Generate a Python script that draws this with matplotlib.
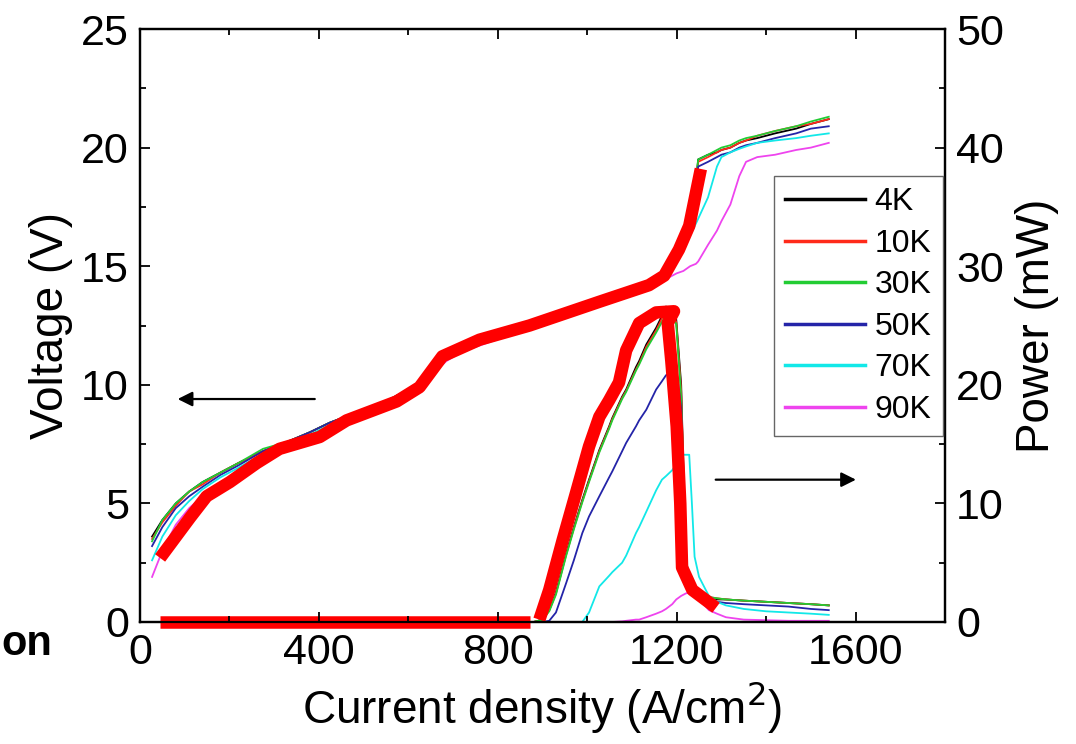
import numpy as np
import matplotlib
matplotlib.use('Agg')
import matplotlib.pyplot as plt
from matplotlib.ticker import MultipleLocator

plt.rcParams['font.family'] = ['Liberation Sans', 'DejaVu Sans']

temps = ['4K', '10K', '30K', '50K', '70K', '90K']
colors = ['#000000', '#ff2a1a', '#22cc33', '#2424a8', '#12e8e8', '#ee44ee']

# voltage vs current density, one list per temperature on a shared J grid
j_v = [27, 50, 80, 110, 140, 180, 220, 275, 330, 380, 424, 480, 540, 610, 650, 685, 720, 797, 871, 950,
       1027, 1100, 1150, 1180, 1200, 1215, 1230, 1243, 1248, 1270, 1290, 1300, 1320, 1340, 1355, 1380, 1420, 1467, 1500, 1540]
v_4k = [3.6, 4.3, 5.0, 5.5, 5.9, 6.3, 6.7, 7.2, 7.6, 8.0, 8.4, 8.8, 9.2, 9.9, 10.6, 11.3, 11.6, 12.0, 12.6, 13.0,
        13.5, 14.0, 14.3, 14.7, 15.3, 16.1, 17.1, 18.5, 19.5, 19.7, 19.8, 19.9, 20.0, 20.2, 20.3, 20.4, 20.6, 20.8, 21.0, 21.2]
v_10k = [3.5, 4.2, 4.9, 5.5, 5.8, 6.3, 6.7, 7.2, 7.6, 8.0, 8.4, 8.8, 9.2, 9.9, 10.6, 11.2, 11.6, 12.0, 12.6, 13.0,
         13.5, 14.0, 14.3, 14.7, 15.3, 16.1, 17.1, 18.5, 19.4, 19.6, 19.8, 19.9, 20.0, 20.2, 20.3, 20.5, 20.7, 20.9, 21.0, 21.2]
v_30k = [3.4, 4.3, 5.0, 5.5, 5.9, 6.3, 6.7, 7.3, 7.6, 8.0, 8.4, 8.8, 9.2, 9.9, 10.6, 11.3, 11.6, 12.0, 12.6, 13.0,
         13.5, 14.0, 14.3, 14.7, 15.3, 16.1, 17.1, 18.6, 19.5, 19.7, 19.9, 20.0, 20.1, 20.3, 20.4, 20.5, 20.7, 20.9, 21.1, 21.3]
v_50k = [3.2, 4.0, 4.8, 5.3, 5.7, 6.2, 6.6, 7.2, 7.6, 8.0, 8.4, 8.8, 9.2, 9.9, 10.6, 11.2, 11.6, 12.0, 12.6, 13.0,
         13.5, 14.0, 14.3, 14.7, 15.3, 16.0, 17.0, 18.4, 19.2, 19.4, 19.6, 19.7, 19.8, 20.0, 20.1, 20.2, 20.4, 20.6, 20.8, 20.9]
v_70k = [2.6, 3.6, 4.5, 5.1, 5.6, 6.1, 6.5, 7.1, 7.5, 7.9, 8.3, 8.7, 9.1, 9.8, 10.5, 11.1, 11.5, 11.9, 12.5, 12.9,
         13.4, 13.9, 14.2, 14.8, 15.3, 15.8, 16.3, 16.8, 17.0, 17.9, 19.2, 19.6, 19.8, 19.95, 20.05, 20.2, 20.3, 20.4, 20.5, 20.6]
v_90k = [1.9, 3.0, 4.1, 4.8, 5.3, 5.9, 6.3, 7.0, 7.4, 7.8, 8.2, 8.6, 9.0, 9.7, 10.4, 11.0, 11.4, 11.9, 12.5, 12.9,
         13.4, 13.9, 14.2, 14.5, 14.7, 14.8, 15.0, 15.1, 15.2, 15.9, 16.5, 16.9, 17.6, 18.8, 19.4, 19.6, 19.7, 19.9, 20.0, 20.2]

# optical power vs current density
j_p = [27, 880, 900, 915, 930, 953, 970, 989, 1004, 1027, 1049, 1056, 1078, 1087, 1109, 1116, 1132, 1154, 1167,
       1176, 1190, 1199, 1210, 1220, 1228, 1234, 1240, 1250, 1265, 1272, 1290, 1310, 1350, 1400, 1450, 1500, 1540]
p_4k = [0, 0, 0.2, 1.0, 2.5, 5.8, 8.0, 10.3, 12.0, 14.5, 16.5, 17.2, 19.0, 19.6, 21.5, 22.0, 23.4, 24.8, 25.8,
        26.6, 26.2, 25.5, 20.0, 6.0, 3.0, 2.6, 2.5, 2.3, 2.1, 2.0, 1.9, 1.9, 1.8, 1.7, 1.6, 1.5, 1.4]
p_10k = [0, 0, 0.2, 1.0, 2.4, 5.7, 7.9, 10.2, 11.9, 14.4, 16.4, 17.1, 18.9, 19.5, 21.3, 21.8, 23.2, 24.6, 25.6,
         26.3, 26.0, 25.3, 19.5, 5.8, 3.0, 2.6, 2.5, 2.4, 2.2, 2.1, 2.0, 1.9, 1.8, 1.7, 1.6, 1.5, 1.4]
p_30k = [0, 0, 0.2, 0.9, 2.3, 5.6, 7.8, 10.1, 11.8, 14.3, 16.3, 17.0, 18.8, 19.4, 21.2, 21.7, 23.0, 24.4, 25.3,
         25.9, 25.8, 25.1, 19.0, 5.6, 3.0, 2.6, 2.5, 2.4, 2.2, 2.1, 2.0, 1.9, 1.8, 1.7, 1.6, 1.5, 1.4]
p_50k = [0, 0, 0, 0.1, 0.8, 3.3, 5.2, 7.5, 8.9, 10.6, 12.2, 12.7, 14.4, 15.1, 16.5, 17.0, 17.9, 19.6, 20.3,
         20.8, 21.2, 21.4, 18.0, 5.0, 2.8, 2.4, 2.2, 2.1, 1.9, 1.8, 1.7, 1.6, 1.5, 1.4, 1.3, 1.1, 1.0]
p_70k = [0, 0, 0, 0, 0, 0, 0, 0, 0.8, 3.0, 3.9, 4.2, 5.0, 5.6, 7.5, 8.0, 9.3, 11.1, 12.0,
         12.3, 12.8, 13.3, 14.1, 14.1, 14.1, 10.0, 5.5, 3.8, 2.7, 2.2, 1.7, 1.4, 1.1, 0.9, 0.8, 0.7, 0.6]
p_90k = [0, 0, 0, 0, 0, 0, 0, 0, 0, 0, 0, 0, 0.05, 0.1, 0.2, 0.2, 0.4, 0.7, 0.9,
         1.1, 1.5, 1.9, 2.2, 2.4, 2.5, 2.4, 2.2, 1.9, 1.3, 1.0, 0.7, 0.4, 0.2, 0.15, 0.1, 0.1, 0.1]

# thick red trace drawn over the curves
red_j_v = [45, 112, 149, 201, 261, 312, 402, 462, 574, 625, 676, 759, 871, 1027, 1138, 1172, 1205, 1228, 1254]
red_v = [2.7, 4.4, 5.3, 5.9, 6.7, 7.3, 7.8, 8.5, 9.3, 9.9, 11.2, 11.9, 12.5, 13.5, 14.2, 14.6, 15.7, 16.7, 19.1]
red_j_base = [45, 871]
red_p_base = [0, 0]
red_j_p = [893, 915, 945, 975, 1004, 1027, 1049, 1071, 1087, 1116, 1154, 1194, 1180, 1188, 1200, 1208, 1212, 1235, 1288]
red_p = [0.2, 2.7, 6.9, 10.9, 14.8, 17.3, 18.7, 20.2, 22.9, 25.2, 26.1, 26.2, 25.2, 22.0, 16.5, 10.0, 4.6, 2.7, 1.2]

volts = [v_4k, v_10k, v_30k, v_50k, v_70k, v_90k]
powers = [p_4k, p_10k, p_30k, p_50k, p_70k, p_90k]

fig = plt.figure(figsize=(10.76, 7.44), dpi=100)
ax = fig.add_axes([0.1301, 0.164, 0.7482, 0.797])
ax2 = ax.twinx()
ax.set_zorder(ax2.get_zorder() + 1)
ax.patch.set_visible(False)

for t, c, v, p in zip(temps, colors, volts, powers):
    ax.plot(j_v, v, color=c, lw=1.3, label=t)
    ax2.plot(j_p, p, color=c, lw=1.3)

ax.plot(red_j_v, red_v, color='#ff0000', lw=9, solid_capstyle='butt', solid_joinstyle='round', zorder=5)
ax2.plot(red_j_base, red_p_base, color='#ff0000', lw=9, solid_capstyle='butt', zorder=5, clip_on=False)
ax2.plot(red_j_p, red_p, color='#ff0000', lw=9, solid_capstyle='butt', solid_joinstyle='round', zorder=5)

ax.set_xlim(0, 1800)
ax.set_ylim(0, 25)
ax2.set_ylim(0, 50)
ax.xaxis.set_major_locator(MultipleLocator(400))
ax.xaxis.set_minor_locator(MultipleLocator(200))
ax.yaxis.set_major_locator(MultipleLocator(5))
ax.yaxis.set_minor_locator(MultipleLocator(2.5))
ax2.yaxis.set_major_locator(MultipleLocator(10))
ax2.yaxis.set_minor_locator(MultipleLocator(5))

ax.tick_params(which='both', direction='in', top=True, labelsize=31, width=1.3, pad=8)
ax.tick_params(which='major', length=7)
ax.tick_params(which='minor', length=4)
ax2.tick_params(which='both', direction='in', labelsize=31, width=1.3, pad=8)
ax2.tick_params(which='major', length=7)
ax2.tick_params(which='minor', length=4)
for a in (ax, ax2):
    for s in a.spines.values():
        s.set_linewidth(1.6)

ax.set_xlabel('Current density (A/cm$^2$)', fontsize=33, labelpad=4)
ax.set_ylabel('Voltage (V)', fontsize=33, labelpad=6)
ax2.set_ylabel('Power (mW)', fontsize=33, labelpad=8)

# direction arrows for each axis
ax.annotate('', xy=(78, 9.4), xytext=(397, 9.4),
            arrowprops=dict(arrowstyle='-|>', color='black', lw=1.6, mutation_scale=22))
ax2.annotate('', xy=(1607, 12.0), xytext=(1281, 12.0),
             arrowprops=dict(arrowstyle='-|>', color='black', lw=1.6, mutation_scale=22))

leg = ax.legend(loc='upper right', bbox_to_anchor=(0.997, 0.752), borderaxespad=0, fontsize=23,
                handlelength=2.5, handletextpad=0.3, labelspacing=0.36, borderpad=0.35,
                fancybox=False, framealpha=1, edgecolor='#666666')
leg.get_frame().set_linewidth(1.0)
for h in leg.get_lines():
    h.set_linewidth(2.5)

fig.text(1 / 1076, 0.12, 'on', fontsize=30, fontweight='bold', ha='left', va='baseline')

fig.savefig('out.png', dpi=100)
